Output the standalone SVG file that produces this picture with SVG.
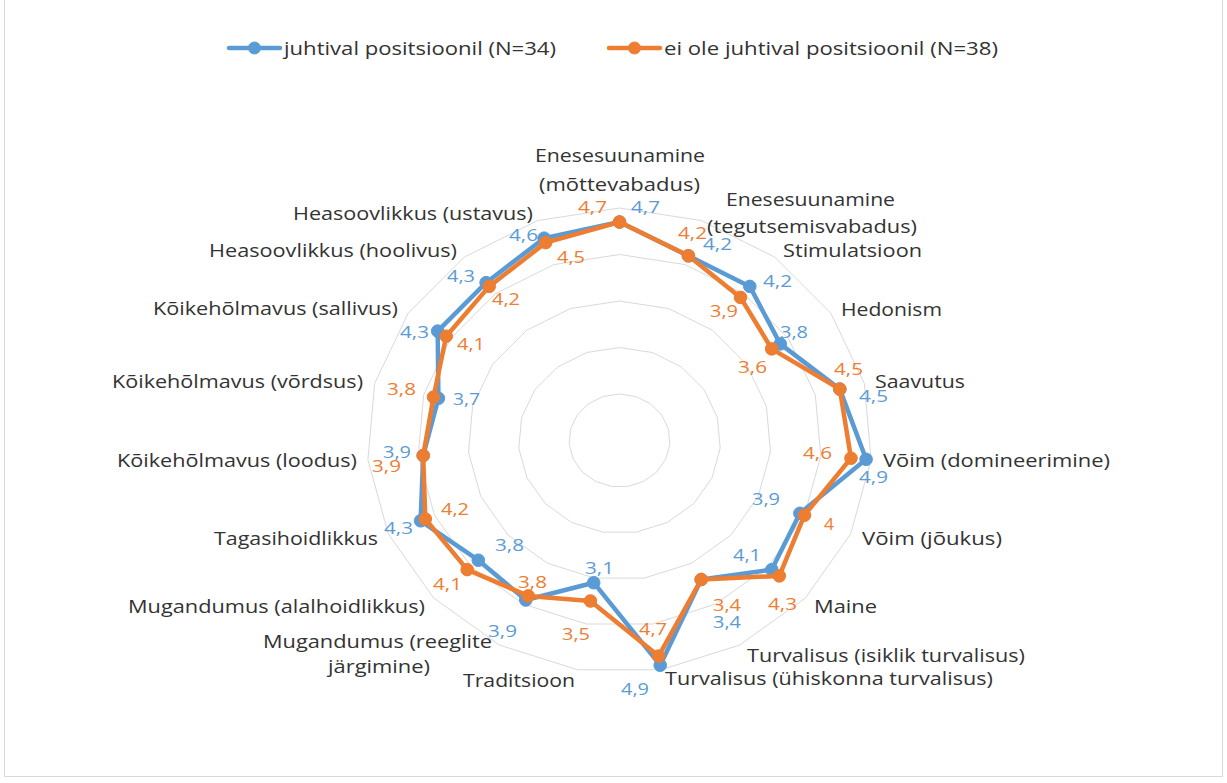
<svg xmlns="http://www.w3.org/2000/svg" width="1227" height="783" viewBox="0 0 1227 783">
  <style>
    .bg { fill: #FFFFFF; }
    .frame { fill: none; stroke: #D9D9D9; stroke-width: 1; }
    .ring { fill: none; stroke: #D9D9D9; stroke-width: 1; }
    .line-b { fill: none; stroke: #5B9BD5; stroke-width: 4.5; stroke-linejoin: round; stroke-linecap: round; }
    .line-o { fill: none; stroke: #ED7D31; stroke-width: 4.5; stroke-linejoin: round; stroke-linecap: round; }
    .dot-b { fill: #5B9BD5; stroke: #5B9BD5; stroke-width: 1; }
    .dot-o { fill: #ED7D31; stroke: #ED7D31; stroke-width: 1; }
    .cat { font-family: "Open Sans", "Liberation Sans", sans-serif; font-size: 18.5px; fill: #333333; }
    .leg { font-family: "Open Sans", "Liberation Sans", sans-serif; font-size: 18px; fill: #333333; }
    .val { font-family: "Open Sans", "Liberation Sans", sans-serif; font-size: 16.5px; }
    .vb { fill: #5B9BD5; }
    .vo { fill: #ED7D31; }
  </style>

  <rect class="bg" x="0" y="0" width="1227" height="783"/>
  <path class="frame" d="M4.5,0 V776.5 H1222.5 V0"/>

  <!-- legend -->
  <g id="legend">
    <g id="legend-juhtival">
      <line class="line-b" x1="229" y1="48" x2="280" y2="48"/>
      <circle class="dot-b" cx="254.5" cy="48" r="6"/>
      <text class="leg" x="284" y="55" textLength="272" lengthAdjust="spacingAndGlyphs">juhtival positsioonil (N=34)</text>
    </g>
    <g id="legend-ei-ole">
      <line class="line-o" x1="609" y1="48" x2="660" y2="48"/>
      <circle class="dot-o" cx="634.5" cy="48" r="6"/>
      <text class="leg" x="664" y="55" textLength="334" lengthAdjust="spacingAndGlyphs">ei ole juhtival positsioonil (N=38)</text>
    </g>
  </g>

  <!-- radial grid: 19-sided rings for values 1..5 -->
  <g id="grid">
    <polygon class="ring" points="619.5,394.0 635.9,396.5 650.5,403.8 661.8,415.1 668.5,429.1 669.8,444.3 665.7,459.2 656.7,472.0 643.5,481.4 627.8,486.4 611.2,486.4 595.5,481.4 582.3,472.0 573.3,459.2 569.2,444.3 570.5,429.1 577.2,415.1 588.5,403.8 603.1,396.5"/>
    <polygon class="ring" points="619.5,347.5 652.3,352.5 681.5,367.1 704.1,389.6 717.4,417.7 720.2,448.2 712.0,477.9 693.8,503.5 667.6,522.3 636.1,532.2 602.9,532.2 571.4,522.3 545.2,503.5 527.0,477.9 518.8,448.2 521.6,417.7 534.9,389.6 557.5,367.1 586.7,352.5"/>
    <polygon class="ring" points="619.5,301.0 668.7,308.6 712.6,330.4 746.3,364.2 766.4,406.3 770.5,452.0 758.2,496.5 731.0,535.0 691.6,563.2 644.4,578.1 594.6,578.1 547.4,563.2 508.0,535.0 480.8,496.5 468.5,452.0 472.6,406.3 492.7,364.2 526.5,330.4 570.3,308.6"/>
    <polygon class="ring" points="619.5,254.5 685.1,264.6 743.6,293.7 788.6,338.8 815.3,394.8 820.8,455.9 804.5,515.2 768.1,566.5 715.6,604.1 652.8,624.0 586.3,624.0 523.4,604.1 470.9,566.5 434.5,515.2 418.2,455.9 423.7,394.8 450.4,338.8 495.4,293.7 553.9,264.6"/>
    <polygon class="ring" points="619.5,208.0 701.5,220.6 774.6,257.0 830.9,313.3 864.3,383.4 871.1,459.7 850.7,533.9 805.3,598.0 739.7,645.0 661.1,669.8 577.9,669.8 499.3,645.0 433.7,598.0 388.3,533.9 367.9,459.7 374.7,383.4 408.1,313.3 464.4,257.0 537.5,220.6"/>
  </g>

  <!-- data series -->
  <g id="connectors">
    <g id="series-juhtival">
      <polygon class="line-b" points="619.5,222.0 688.4,255.8 749.8,286.4 780.2,343.9 839.8,389.1 866.1,459.3 799.9,513.3 771.8,569.6 701.2,579.5 660.2,665.2 593.7,582.7 525.8,600.0 478.3,560.2 420.6,520.8 423.2,455.5 438.4,398.3 437.7,331.1 486.1,282.7 544.1,238.2"/>
      <circle class="dot-b" cx="619.5" cy="222.0" r="6.3"/>
      <circle class="dot-b" cx="688.4" cy="255.8" r="6.3"/>
      <circle class="dot-b" cx="749.8" cy="286.4" r="6.3"/>
      <circle class="dot-b" cx="780.2" cy="343.9" r="6.3"/>
      <circle class="dot-b" cx="839.8" cy="389.1" r="6.3"/>
      <circle class="dot-b" cx="866.1" cy="459.3" r="6.3"/>
      <circle class="dot-b" cx="799.9" cy="513.3" r="6.3"/>
      <circle class="dot-b" cx="771.8" cy="569.6" r="6.3"/>
      <circle class="dot-b" cx="701.2" cy="579.5" r="6.3"/>
      <circle class="dot-b" cx="660.2" cy="665.2" r="6.3"/>
      <circle class="dot-b" cx="593.7" cy="582.7" r="6.3"/>
      <circle class="dot-b" cx="525.8" cy="600.0" r="6.3"/>
      <circle class="dot-b" cx="478.3" cy="560.2" r="6.3"/>
      <circle class="dot-b" cx="420.6" cy="520.8" r="6.3"/>
      <circle class="dot-b" cx="423.2" cy="455.5" r="6.3"/>
      <circle class="dot-b" cx="438.4" cy="398.3" r="6.3"/>
      <circle class="dot-b" cx="437.7" cy="331.1" r="6.3"/>
      <circle class="dot-b" cx="486.1" cy="282.7" r="6.3"/>
      <circle class="dot-b" cx="544.1" cy="238.2" r="6.3"/>
    </g>
    <g id="series-ei-ole">
      <polygon class="line-o" points="619.5,222.0 688.4,255.8 740.5,297.4 771.7,348.9 839.8,389.1 851.0,458.2 804.5,515.2 779.3,575.9 701.2,579.5 658.6,656.1 590.4,601.0 528.2,595.9 467.2,569.6 425.3,519.0 423.2,455.5 433.5,397.1 446.2,336.2 489.2,286.4 545.7,242.6"/>
      <circle class="dot-o" cx="619.5" cy="222.0" r="6.3"/>
      <circle class="dot-o" cx="688.4" cy="255.8" r="6.3"/>
      <circle class="dot-o" cx="740.5" cy="297.4" r="6.3"/>
      <circle class="dot-o" cx="771.7" cy="348.9" r="6.3"/>
      <circle class="dot-o" cx="839.8" cy="389.1" r="6.3"/>
      <circle class="dot-o" cx="851.0" cy="458.2" r="6.3"/>
      <circle class="dot-o" cx="804.5" cy="515.2" r="6.3"/>
      <circle class="dot-o" cx="779.3" cy="575.9" r="6.3"/>
      <circle class="dot-o" cx="701.2" cy="579.5" r="6.3"/>
      <circle class="dot-o" cx="658.6" cy="656.1" r="6.3"/>
      <circle class="dot-o" cx="590.4" cy="601.0" r="6.3"/>
      <circle class="dot-o" cx="528.2" cy="595.9" r="6.3"/>
      <circle class="dot-o" cx="467.2" cy="569.6" r="6.3"/>
      <circle class="dot-o" cx="425.3" cy="519.0" r="6.3"/>
      <circle class="dot-o" cx="423.2" cy="455.5" r="6.3"/>
      <circle class="dot-o" cx="433.5" cy="397.1" r="6.3"/>
      <circle class="dot-o" cx="446.2" cy="336.2" r="6.3"/>
      <circle class="dot-o" cx="489.2" cy="286.4" r="6.3"/>
      <circle class="dot-o" cx="545.7" cy="242.6" r="6.3"/>
    </g>
  </g>

  <!-- value labels -->
  <g id="values">
    <text class="val vo" x="578" y="213" textLength="29" lengthAdjust="spacingAndGlyphs">4,7</text>
    <text class="val vb" x="631" y="213" textLength="29" lengthAdjust="spacingAndGlyphs">4,7</text>
    <text class="val vo" x="678" y="239" textLength="29" lengthAdjust="spacingAndGlyphs">4,2</text>
    <text class="val vb" x="703" y="250" textLength="29" lengthAdjust="spacingAndGlyphs">4,2</text>
    <text class="val vb" x="763" y="287" textLength="29" lengthAdjust="spacingAndGlyphs">4,2</text>
    <text class="val vo" x="710" y="317" textLength="28" lengthAdjust="spacingAndGlyphs">3,9</text>
    <text class="val vb" x="780" y="338" textLength="28" lengthAdjust="spacingAndGlyphs">3,8</text>
    <text class="val vo" x="738" y="373" textLength="29" lengthAdjust="spacingAndGlyphs">3,6</text>
    <text class="val vo" x="834" y="375" textLength="29" lengthAdjust="spacingAndGlyphs">4,5</text>
    <text class="val vb" x="859" y="402" textLength="29" lengthAdjust="spacingAndGlyphs">4,5</text>
    <text class="val vo" x="803" y="459" textLength="29" lengthAdjust="spacingAndGlyphs">4,6</text>
    <text class="val vb" x="859" y="483" textLength="29" lengthAdjust="spacingAndGlyphs">4,9</text>
    <text class="val vb" x="752" y="505" textLength="28" lengthAdjust="spacingAndGlyphs">3,9</text>
    <text class="val vo" x="824" y="530" textLength="10" lengthAdjust="spacingAndGlyphs">4</text>
    <text class="val vb" x="733" y="561" textLength="28" lengthAdjust="spacingAndGlyphs">4,1</text>
    <text class="val vo" x="768" y="610" textLength="29" lengthAdjust="spacingAndGlyphs">4,3</text>
    <text class="val vo" x="713" y="611" textLength="28" lengthAdjust="spacingAndGlyphs">3,4</text>
    <text class="val vb" x="713" y="628" textLength="28" lengthAdjust="spacingAndGlyphs">3,4</text>
    <text class="val vo" x="639" y="635" textLength="28" lengthAdjust="spacingAndGlyphs">4,7</text>
    <text class="val vb" x="621" y="695" textLength="28" lengthAdjust="spacingAndGlyphs">4,9</text>
    <text class="val vb" x="585" y="574" textLength="29" lengthAdjust="spacingAndGlyphs">3,1</text>
    <text class="val vo" x="562" y="640" textLength="28" lengthAdjust="spacingAndGlyphs">3,5</text>
    <text class="val vo" x="518" y="588" textLength="29" lengthAdjust="spacingAndGlyphs">3,8</text>
    <text class="val vb" x="488" y="637" textLength="29" lengthAdjust="spacingAndGlyphs">3,9</text>
    <text class="val vb" x="495" y="551" textLength="29" lengthAdjust="spacingAndGlyphs">3,8</text>
    <text class="val vo" x="433" y="590" textLength="29" lengthAdjust="spacingAndGlyphs">4,1</text>
    <text class="val vo" x="441" y="515" textLength="28" lengthAdjust="spacingAndGlyphs">4,2</text>
    <text class="val vb" x="384" y="534" textLength="29" lengthAdjust="spacingAndGlyphs">4,3</text>
    <text class="val vb" x="383" y="458" textLength="28" lengthAdjust="spacingAndGlyphs">3,9</text>
    <text class="val vo" x="372" y="472" textLength="29" lengthAdjust="spacingAndGlyphs">3,9</text>
    <text class="val vo" x="387" y="395" textLength="29" lengthAdjust="spacingAndGlyphs">3,8</text>
    <text class="val vb" x="453" y="405" textLength="27" lengthAdjust="spacingAndGlyphs">3,7</text>
    <text class="val vb" x="400" y="338" textLength="29" lengthAdjust="spacingAndGlyphs">4,3</text>
    <text class="val vo" x="457" y="350" textLength="28" lengthAdjust="spacingAndGlyphs">4,1</text>
    <text class="val vb" x="447" y="282" textLength="28" lengthAdjust="spacingAndGlyphs">4,3</text>
    <text class="val vo" x="492" y="305" textLength="28" lengthAdjust="spacingAndGlyphs">4,2</text>
    <text class="val vb" x="509" y="241" textLength="29" lengthAdjust="spacingAndGlyphs">4,6</text>
    <text class="val vo" x="557" y="263" textLength="28" lengthAdjust="spacingAndGlyphs">4,5</text>
  </g>

  <!-- category labels -->
  <g id="categories">
    <g id="cat-enesesuunamine-motte">
      <text class="cat" x="535" y="162" textLength="170" lengthAdjust="spacingAndGlyphs">Enesesuunamine</text>
      <text class="cat" x="539" y="191" textLength="161" lengthAdjust="spacingAndGlyphs">(mõttevabadus)</text>
    </g>
    <g id="cat-enesesuunamine-tegu">
      <text class="cat" x="726" y="206" textLength="169" lengthAdjust="spacingAndGlyphs">Enesesuunamine</text>
      <text class="cat" x="707" y="233" textLength="210" lengthAdjust="spacingAndGlyphs">(tegutsemisvabadus)</text>
    </g>
    <g id="cat-stimulatsioon"><text class="cat" x="783" y="257" textLength="139" lengthAdjust="spacingAndGlyphs">Stimulatsioon</text></g>
    <g id="cat-hedonism"><text class="cat" x="841" y="316" textLength="101" lengthAdjust="spacingAndGlyphs">Hedonism</text></g>
    <g id="cat-saavutus"><text class="cat" x="875" y="388" textLength="90" lengthAdjust="spacingAndGlyphs">Saavutus</text></g>
    <g id="cat-voim-dom"><text class="cat" x="883" y="467" textLength="227" lengthAdjust="spacingAndGlyphs">Võim (domineerimine)</text></g>
    <g id="cat-voim-joukus"><text class="cat" x="862" y="545" textLength="140" lengthAdjust="spacingAndGlyphs">Võim (jõukus)</text></g>
    <g id="cat-maine"><text class="cat" x="814" y="613" textLength="63" lengthAdjust="spacingAndGlyphs">Maine</text></g>
    <g id="cat-turv-isiklik"><text class="cat" x="747" y="662" textLength="278" lengthAdjust="spacingAndGlyphs">Turvalisus (isiklik turvalisus)</text></g>
    <g id="cat-turv-uhiskonna"><text class="cat" x="665" y="685" textLength="328" lengthAdjust="spacingAndGlyphs">Turvalisus (ühiskonna turvalisus)</text></g>
    <g id="cat-traditsioon"><text class="cat" x="463" y="687" textLength="112" lengthAdjust="spacingAndGlyphs">Traditsioon</text></g>
    <g id="cat-mugandumus-reeglite">
      <text class="cat" x="263" y="648" textLength="229" lengthAdjust="spacingAndGlyphs">Mugandumus (reeglite</text>
      <text class="cat" x="328" y="673" textLength="102" lengthAdjust="spacingAndGlyphs">järgimine)</text>
    </g>
    <g id="cat-mugandumus-alal"><text class="cat" x="128" y="613" textLength="297" lengthAdjust="spacingAndGlyphs">Mugandumus (alalhoidlikkus)</text></g>
    <g id="cat-tagasihoidlikkus"><text class="cat" x="214" y="545" textLength="164" lengthAdjust="spacingAndGlyphs">Tagasihoidlikkus</text></g>
    <g id="cat-koike-loodus"><text class="cat" x="117" y="467" textLength="240" lengthAdjust="spacingAndGlyphs">Kõikehõlmavus (loodus)</text></g>
    <g id="cat-koike-vordsus"><text class="cat" x="112" y="388" textLength="251" lengthAdjust="spacingAndGlyphs">Kõikehõlmavus (võrdsus)</text></g>
    <g id="cat-koike-sallivus"><text class="cat" x="153" y="315" textLength="245" lengthAdjust="spacingAndGlyphs">Kõikehõlmavus (sallivus)</text></g>
    <g id="cat-heasoov-hoolivus"><text class="cat" x="209" y="257" textLength="248" lengthAdjust="spacingAndGlyphs">Heasoovlikkus (hoolivus)</text></g>
    <g id="cat-heasoov-ustavus"><text class="cat" x="293" y="220" textLength="240" lengthAdjust="spacingAndGlyphs">Heasoovlikkus (ustavus)</text></g>
  </g>
</svg>
